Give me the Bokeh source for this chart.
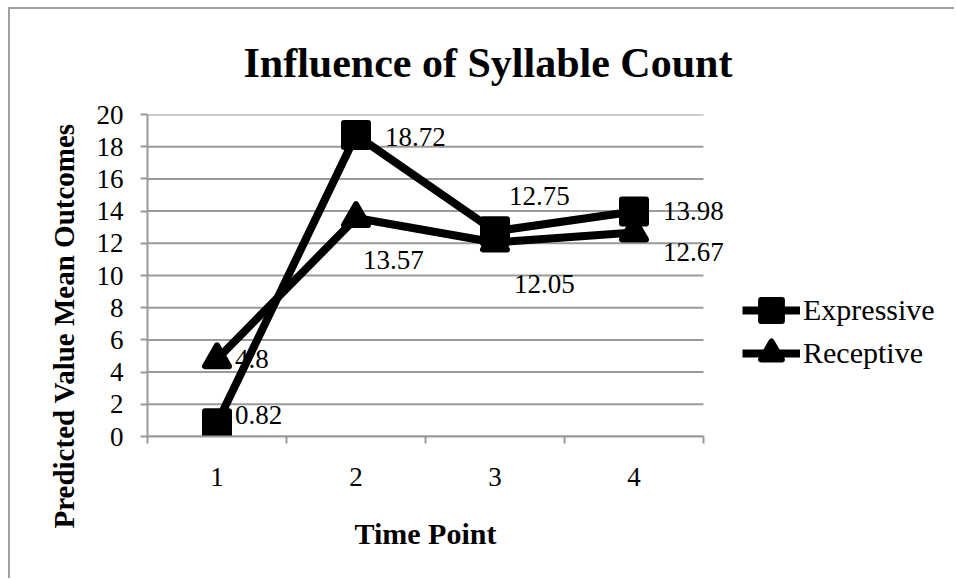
from bokeh.plotting import figure
from bokeh.models import (Range1d, FixedTicker, LabelSet, Legend, LegendItem,
                          ColumnDataSource, Title)
from bokeh.embed import file_html
from bokeh.resources import INLINE

# ---- data ----
time_points = [1, 2, 3, 4]
expressive = [0.82, 18.72, 12.75, 13.98]
receptive = [4.8, 13.57, 12.05, 12.67]
y_ticks = [0, 2, 4, 6, 8, 10, 12, 14, 16, 18, 20]
series_names = ["Expressive", "Receptive"]
title_text = "Influence of Syllable Count"
x_title = "Time Point"
y_title = "Predicted Value Mean Outcomes"

# ---- label placement (style, screen px; dy positive = up) ----
exp_dx = [18, 29, 14, 29]
exp_dy = [8, -2, 35, 0]
rec_dx = [18, 7, 19, 29]
rec_dy = [0, -42, -42, -19]

FONT = "Liberation Serif"
GRAY = "#9a9a9a"

W, H = 946, 571
FRAME_L, FRAME_T, FRAME_B = 137, 103, 427
PX_PER_CAT = 139.0
x_lo = time_points[0] - 0.5
x_hi = time_points[-1] + 0.5
x_end = x_lo + (W - FRAME_L) / PX_PER_CAT

p = figure(width=W, height=H, output_backend="svg", toolbar_location=None,
           x_range=Range1d(x_lo, x_end), y_range=Range1d(y_ticks[0], y_ticks[-1]),
           min_border_left=FRAME_L, min_border_right=0, min_border_top=FRAME_T,
           min_border_bottom=H - FRAME_B)
p.styles = {"margin-left": "10px", "margin-top": "9px",
            "box-shadow": "-2px -2px 0px 0px #a0a0a0"}
p.outline_line_color = None
p.background_fill_color = "white"
p.border_fill_color = "white"

# title
p.title.text = title_text
p.title.text_font = FONT
p.title.text_font_style = "bold"
p.title.text_font_size = "42px"
p.title.align = "left"
p.title.offset = 96
p.title.standoff = 57
p.title.text_color = "black"

# axes
p.xaxis.ticker = FixedTicker(ticks=time_points,
                             minor_ticks=[t - 0.5 for t in time_points] + [x_hi])
p.xaxis.bounds = (x_lo, x_hi)
p.xaxis.major_tick_out = 0
p.xaxis.major_tick_in = 0
p.xaxis.minor_tick_out = 7
p.xaxis.minor_tick_in = 0
p.xaxis.minor_tick_line_color = GRAY
p.xaxis.minor_tick_line_width = 2
p.xaxis.axis_line_color = GRAY
p.xaxis.axis_line_width = 2
p.xaxis.major_label_standoff = 24
p.xaxis.major_label_text_font = FONT
p.xaxis.major_label_text_font_size = "27px"
p.xaxis.major_label_text_color = "black"

p.yaxis.ticker = FixedTicker(ticks=y_ticks)
p.yaxis.major_tick_out = 7
p.yaxis.major_tick_in = 0
p.yaxis.minor_tick_line_color = None
p.yaxis.major_tick_line_color = GRAY
p.yaxis.major_tick_line_width = 2
p.yaxis.axis_line_color = GRAY
p.yaxis.axis_line_width = 2
p.yaxis.major_label_standoff = 17
p.yaxis.major_label_text_font = FONT
p.yaxis.major_label_text_font_size = "27px"
p.yaxis.major_label_text_color = "black"

p.add_layout(Title(text=y_title, align="left", offset=-92, standoff=27,
                   text_font=FONT, text_font_style="bold", text_font_size="29px",
                   text_color="black"), "left")
p.add_layout(Title(text=x_title, align="left", offset=207, standoff=52,
                   text_font=FONT, text_font_style="bold", text_font_size="30px",
                   text_color="black"), "below")

# grid lines restricted to the category span
p.xgrid.grid_line_color = None
p.ygrid.grid_line_color = None
p.segment(x0=[x_lo] * len(y_ticks), x1=[x_hi] * len(y_ticks), y0=y_ticks, y1=y_ticks,
          line_color=GRAY, line_width=2)

# series
src_e = ColumnDataSource(dict(x=time_points, y=expressive,
                              lbl=[f"{v:g}" for v in expressive], dx=exp_dx, dy=exp_dy))
src_r = ColumnDataSource(dict(x=time_points, y=receptive,
                              lbl=[f"{v:g}" for v in receptive], dx=rec_dx, dy=rec_dy))

le = p.line("x", "y", source=src_e, line_color="black", line_width=8, line_join="round")
lr = p.line("x", "y", source=src_r, line_color="black", line_width=8, line_join="round")
se = p.scatter("x", "y", source=src_e, marker="square", size=24, fill_color="black",
               line_color="black", line_width=6, line_join="round")
sr = p.scatter("x", "y", source=src_r, marker="triangle", size=24, fill_color="black",
               line_color="black", line_width=6, line_join="round")

for src in (src_e, src_r):
    p.add_layout(LabelSet(x="x", y="y", text="lbl", source=src, x_offset="dx", y_offset="dy",
                          text_font=FONT, text_font_size="27px", text_color="black",
                          text_align="left", text_baseline="middle"))

# one legend per entry so that rows can sit closer than the glyph box height
for name, rends, loc in ((series_names[0], [le, se], (595, 100)),
                         (series_names[1], [lr, sr], (595, 57))):
    lg = Legend(items=[LegendItem(label=name, renderers=rends)],
                location=loc, orientation="vertical",
                glyph_width=58, glyph_height=52, padding=0, margin=0,
                label_standoff=3, label_text_font=FONT, label_text_font_size="30px",
                label_text_color="black", background_fill_alpha=0, border_line_alpha=0)
    p.add_layout(lg)

open("out.html", "w").write(file_html(p, INLINE))
